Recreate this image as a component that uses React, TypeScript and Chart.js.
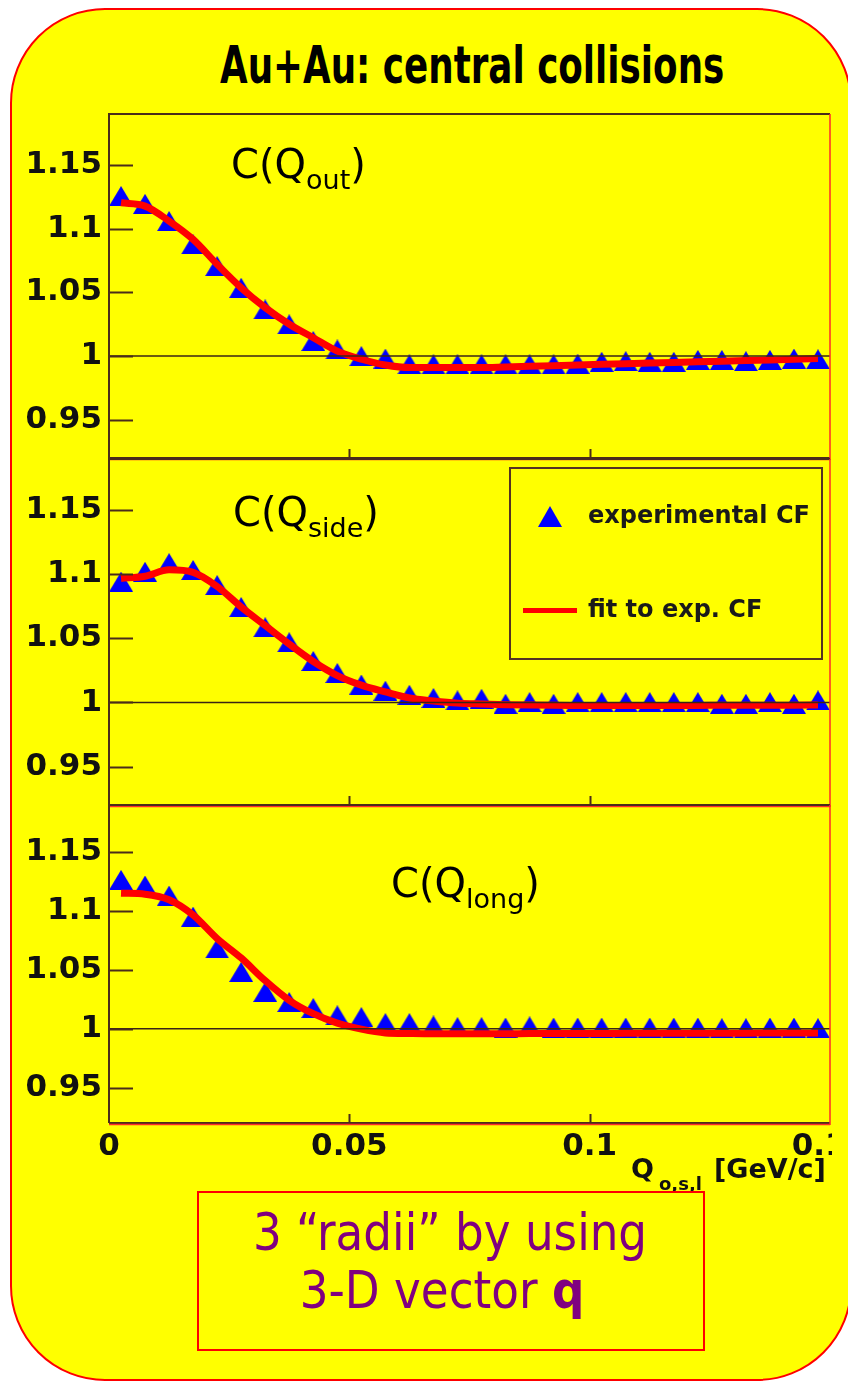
import React, { useEffect, useRef } from "react";
import { Chart, registerables } from "chart.js";

Chart.register(...registerables);

// ---------- data ----------
const qCenters = [
  0.0025, 0.0075, 0.0125, 0.0175, 0.0225, 0.0275, 0.0325, 0.0375, 0.0425, 0.0475,
  0.0525, 0.0575, 0.0625, 0.0675, 0.0725, 0.0775, 0.0825, 0.0875, 0.0925, 0.0975,
  0.1025, 0.1075, 0.1125, 0.1175, 0.1225, 0.1275, 0.1325, 0.1375, 0.1425, 0.1475,
];

const outPoints = [
  1.1256, 1.1195, 1.106, 1.0877, 1.0706, 1.0536, 1.0366, 1.0249, 1.0118, 1.0052,
  1.0, 0.998, 0.9935, 0.9935, 0.9935, 0.9935, 0.9935, 0.9935, 0.9935, 0.994,
  0.9955, 0.996, 0.9955, 0.9955, 0.997, 0.997, 0.996, 0.997, 0.998, 0.9975,
];
const outFit = [
  1.1203, 1.1177, 1.106, 1.0916, 1.072, 1.0536, 1.038, 1.025, 1.0144, 1.0039,
  0.9975, 0.993, 0.991, 0.991, 0.991, 0.991, 0.9915, 0.992, 0.9925, 0.993,
  0.9935, 0.994, 0.9945, 0.995, 0.9955, 0.996, 0.9965, 0.997, 0.9975, 0.998,
];

const sidePoints = [
  1.0943, 1.102, 1.1087, 1.1034, 1.0916, 1.0745, 1.0587, 1.047, 1.0324, 1.023,
  1.014, 1.0092, 1.006, 1.0035, 1.0016, 1.0029, 0.999, 1.0003, 0.999, 1.0003,
  1.0003, 1.0003, 1.0003, 1.0003, 1.0003, 0.999, 0.999, 1.0003, 0.999, 1.0016,
];
const sideFit = [
  1.0968, 1.0985, 1.1035, 1.1015, 1.0905, 1.0745, 1.06, 1.0455, 1.032, 1.021,
  1.0135, 1.0082, 1.0035, 1.0012, 0.9995, 0.9988, 0.9983, 0.998, 0.9978, 0.9977,
  0.9976, 0.9976, 0.9976, 0.9977, 0.9977, 0.9978, 0.9978, 0.9979, 0.9979, 0.998,
];

const longPoints = [
  1.1264, 1.1216, 1.1131, 1.0952, 1.0682, 1.0483, 1.0313, 1.0227, 1.0176, 1.0114,
  1.0099, 1.0048, 1.0048, 1.0028, 1.0014, 1.0014, 1.001, 1.002, 1.001, 1.001,
  1.001, 1.001, 1.001, 1.001, 1.001, 1.0005, 1.0005, 1.001, 1.001, 1.0005,
];
const longFit = [
  1.1151, 1.1143, 1.1096, 1.0966, 1.0766, 1.0601, 1.0408, 1.0242, 1.0128, 1.0048,
  0.9997, 0.9965, 0.996, 0.9958, 0.9958, 0.9958, 0.9958, 0.9959, 0.9959, 0.996,
  0.996, 0.9961, 0.9961, 0.9962, 0.9962, 0.9963, 0.9963, 0.9964, 0.9964, 0.9965,
];

const yTickValues = [0.95, 1, 1.05, 1.1, 1.15];
const yTickLabels = ["0.95", "1", "1.05", "1.1", "1.15"];
const xTickValues = [0, 0.05, 0.1, 0.15];
const xTickLabels = ["0", "0.05", "0.1", "0.15"];
const yMin = 0.92;
const yMax = 1.19;
const xMin = 0;
const xMax = 0.15;
const unityLevel = 1;

// ---------- helpers ----------
function makeTriangle(w: number, h: number, color: string) {
  const c = document.createElement("canvas");
  c.width = w;
  c.height = h;
  const g = c.getContext("2d")!;
  g.fillStyle = color;
  g.beginPath();
  g.moveTo(w / 2, 0);
  g.lineTo(w, h);
  g.lineTo(0, h);
  g.closePath();
  g.fill();
  return c;
}

const framePlugin = {
  id: "rootFrame",
  afterDatasetsDraw(chart: any) {
    const { ctx, chartArea } = chart;
    const ys = chart.scales.y;
    const py = ys.getPixelForValue(unityLevel);
    ctx.save();
    ctx.strokeStyle = "#3a2414";
    ctx.lineWidth = 1.5;
    ctx.beginPath();
    ctx.moveTo(chartArea.left, py);
    ctx.lineTo(chartArea.right, py);
    ctx.stroke();
    ctx.restore();
  },
  afterDraw(chart: any) {
    const { ctx, chartArea } = chart;
    const { left, right, top, bottom } = chartArea;
    const ys = chart.scales.y;
    const xs = chart.scales.x;
    ctx.save();
    ctx.strokeStyle = "#4a2c1a";
    ctx.lineWidth = 2;
    ctx.beginPath();
    for (const t of ys.ticks) {
      const p = Math.round(ys.getPixelForValue(t.value)) + 0.5;
      ctx.moveTo(left, p);
      ctx.lineTo(left + 24, p);
    }
    for (const t of xs.ticks) {
      if (t.value > xs.min && t.value < xs.max) {
        const p = Math.round(xs.getPixelForValue(t.value)) + 0.5;
        ctx.moveTo(p, bottom);
        ctx.lineTo(p, bottom - 9);
      }
    }
    ctx.stroke();
    // frame
    ctx.beginPath();
    ctx.moveTo(left, bottom);
    ctx.lineTo(left, top);
    ctx.lineTo(right, top);
    ctx.moveTo(left, bottom);
    ctx.lineTo(right, bottom);
    ctx.stroke();
    ctx.strokeStyle = "#ff2a2a";
    ctx.lineWidth = 1.5;
    ctx.beginPath();
    ctx.moveTo(left, bottom + 1.5);
    ctx.lineTo(right, bottom + 1.5);
    ctx.moveTo(right, top);
    ctx.lineTo(right, bottom + 2);
    ctx.stroke();
    ctx.restore();
  },
};

type PanelProps = {
  points: number[];
  fit: number[];
  top: number;
  width: number;
  height: number;
  padTop: number;
  padBottom: number;
  padRight: number;
  showX: boolean;
  xAxisHeight: number;
};

const tickFont = { family: "DejaVu Sans", size: 31, weight: "bold" as const };

function Panel(props: PanelProps) {
  const ref = useRef<HTMLCanvasElement>(null);
  useEffect(() => {
    const tri = makeTriangle(24, 20, "#0000ff");
    const chart = new Chart(ref.current!, {
      type: "scatter",
      data: {
        datasets: [
          {
            label: "fit to exp. CF",
            data: qCenters.map((q, i) => ({ x: q, y: props.fit[i] })),
            showLine: true,
            borderColor: "#ff0000",
            borderWidth: 7,
            pointRadius: 0,
            cubicInterpolationMode: "monotone",
            fill: false,
          } as any,
          {
            label: "experimental CF",
            data: qCenters.map((q, i) => ({ x: q, y: props.points[i] })),
            showLine: false,
            pointStyle: tri as any,
            pointRadius: 12,
            backgroundColor: "#0000ff",
            borderColor: "#0000ff",
          } as any,
        ],
      },
      options: {
        animation: false,
        responsive: false,
        events: [],
        layout: {
          autoPadding: false,
          padding: { left: 0, right: props.padRight, top: props.padTop, bottom: props.padBottom },
        },
        plugins: { legend: { display: false }, tooltip: { enabled: false } },
        scales: {
          x: {
            type: "linear",
            min: xMin,
            max: xMax,
            afterBuildTicks: (s: any) => {
              s.ticks = xTickValues.map((v) => ({ value: v }));
            },
            afterFit: (s: any) => {
              s.height = props.xAxisHeight;
              s.paddingLeft = 0;
              s.paddingRight = 0;
            },
            ticks: {
              display: props.showX,
              callback: (_v: any, i: number) => xTickLabels[i],
              font: tickFont,
              color: "#111111",
              padding: 5,
              maxRotation: 0,
              autoSkip: false,
            },
            grid: { display: false, drawTicks: false },
            border: { display: false },
          },
          y: {
            type: "linear",
            min: yMin,
            max: yMax,
            afterBuildTicks: (s: any) => {
              s.ticks = yTickValues.map((v) => ({ value: v }));
            },
            afterFit: (s: any) => {
              s.width = 109;
              s.paddingTop = 0;
              s.paddingBottom = 0;
            },
            ticks: {
              callback: (_v: any, i: number) => yTickLabels[i],
              font: tickFont,
              color: "#111111",
              padding: 7,
              autoSkip: false,
            },
            grid: { display: false, drawTicks: false },
            border: { display: false },
          },
        },
      } as any,
      plugins: [framePlugin as any],
    });
    return () => chart.destroy();
  }, []);
  return (
    <canvas
      ref={ref}
      width={props.width}
      height={props.height}
      style={{ position: "absolute", left: 0, top: props.top }}
    />
  );
}

const base = 0.846; // baseline offset (em) for line-height 1 in DejaVu Sans

function PanelLabel({ left, baseline, sub }: { left: number; baseline: number; sub: string }) {
  return (
    <div
      style={{
        position: "absolute",
        left,
        top: baseline - base * 40,
        fontFamily: "DejaVu Sans",
        fontSize: 40,
        lineHeight: "40px",
        color: "#000",
        whiteSpace: "nowrap",
      }}
    >
      C(Q
      <span style={{ fontSize: 27, lineHeight: 0, verticalAlign: "-11px" }}>{sub}</span>)
    </div>
  );
}

export default function App() {
  return (
    <div
      style={{
        position: "absolute",
        left: 0,
        top: 0,
        width: 848,
        height: 1383,
        overflow: "hidden",
        background: "#ffffff",
      }}
    >
      <div
        style={{
          position: "absolute",
          left: 10,
          top: 8,
          width: 842,
          height: 1373,
          boxSizing: "border-box",
          border: "2px solid #ff0000",
          borderRadius: 95,
          background: "#ffff00",
        }}
      />
      <div
        style={{
          position: "absolute",
          left: 220,
          top: 83 - base * 52,
          fontFamily: "DejaVu Sans",
          fontWeight: "bold",
          fontSize: 52,
          lineHeight: "52px",
          whiteSpace: "nowrap",
          color: "#000",
          transform: "scaleX(0.687)",
          transformOrigin: "0 0",
        }}
      >
        Au+Au: central collisions
      </div>

      <Panel points={outPoints} fit={outFit} top={100} width={848} height={370} padTop={14} padBottom={12} padRight={18} showX={false} xAxisHeight={0} />
      <Panel points={sidePoints} fit={sideFit} top={445} width={848} height={372} padTop={14} padBottom={12} padRight={18} showX={false} xAxisHeight={0} />
      <Panel points={longPoints} fit={longFit} top={790} width={832} height={375} padTop={15} padBottom={0} padRight={2} showX={true} xAxisHeight={42} />

      <PanelLabel left={231} baseline={178} sub="out" />
      <PanelLabel left={233} baseline={526} sub="side" />
      <PanelLabel left={391} baseline={897} sub="long" />

      {/* legend */}
      <div
        style={{
          position: "absolute",
          left: 509,
          top: 467,
          width: 314,
          height: 193,
          boxSizing: "border-box",
          border: "2px solid #553322",
        }}
      />
      <div
        style={{
          position: "absolute",
          left: 538,
          top: 506,
          width: 0,
          height: 0,
          borderLeft: "12px solid transparent",
          borderRight: "12px solid transparent",
          borderBottom: "21px solid #0000ff",
        }}
      />
      <div style={{ position: "absolute", left: 523, top: 608, width: 54, height: 5, background: "#ff0000" }} />
      <div
        style={{
          position: "absolute",
          left: 588,
          top: 523 - base * 24,
          fontFamily: "DejaVu Sans",
          fontWeight: "bold",
          fontSize: 24,
          lineHeight: "24px",
          color: "#1a1a1a",
          whiteSpace: "nowrap",
        }}
      >
        experimental CF
      </div>
      <div
        style={{
          position: "absolute",
          left: 588,
          top: 617 - base * 24,
          fontFamily: "DejaVu Sans",
          fontWeight: "bold",
          fontSize: 24,
          lineHeight: "24px",
          color: "#1a1a1a",
          whiteSpace: "nowrap",
        }}
      >
        fit to exp. CF
      </div>

      {/* x axis title */}
      <div style={{ position: "absolute", left: 631, top: 1178 - base * 27, fontFamily: "DejaVu Sans", fontWeight: "bold", fontSize: 27, lineHeight: "27px", color: "#111", whiteSpace: "nowrap" }}>
        Q
      </div>
      <div style={{ position: "absolute", left: 659, top: 1190 - base * 18, fontFamily: "DejaVu Sans", fontWeight: "bold", fontSize: 18, lineHeight: "18px", color: "#111", whiteSpace: "nowrap" }}>
        o,s,l
      </div>
      <div style={{ position: "absolute", left: 714, top: 1178 - base * 27, fontFamily: "DejaVu Sans", fontWeight: "bold", fontSize: 27, lineHeight: "27px", color: "#111", whiteSpace: "nowrap" }}>
        [GeV/c]
      </div>

      {/* bottom note box */}
      <div
        style={{
          position: "absolute",
          left: 197,
          top: 1191,
          width: 508,
          height: 160,
          boxSizing: "border-box",
          border: "2px solid #ff0000",
        }}
      />
      <div
        style={{
          position: "absolute",
          left: 450 - 500,
          width: 1000,
          top: 1250 - base * 52,
          textAlign: "center",
          fontFamily: "DejaVu Sans",
          fontSize: 52,
          lineHeight: "52px",
          color: "#800080",
          whiteSpace: "nowrap",
          transform: "scaleX(0.87)",
          transformOrigin: "50% 0",
        }}
      >
        3 “radii” by using
      </div>
      <div
        style={{
          position: "absolute",
          left: 442 - 500,
          width: 1000,
          top: 1308 - base * 52,
          textAlign: "center",
          fontFamily: "DejaVu Sans",
          fontSize: 52,
          lineHeight: "52px",
          color: "#800080",
          whiteSpace: "nowrap",
          transform: "scaleX(0.87)",
          transformOrigin: "50% 0",
        }}
      >
        3-D vector <b>q</b>
      </div>
    </div>
  );
}
